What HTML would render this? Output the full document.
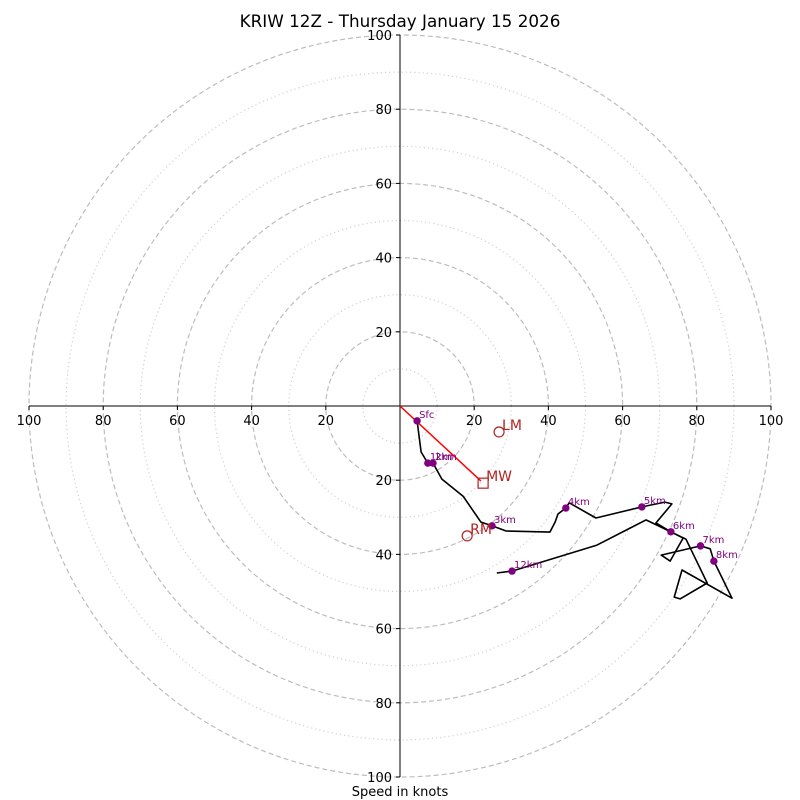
<!DOCTYPE html>
<html><head><meta charset="utf-8">
<style>
html,body{margin:0;padding:0;background:#fff;}
svg{display:block;font-family:"DejaVu Sans","Liberation Sans",sans-serif;}
</style></head>
<body>
<svg id="chart" width="800" height="800" viewBox="0 0 800 800">
<text x="400" y="27" text-anchor="middle" font-size="16.8">KRIW 12Z - Thursday January 15 2026</text>
<text x="400" y="796" text-anchor="middle" font-size="13">Speed in knots</text>
<g id="rings"></g>
<g id="axes"></g>
<g id="series"></g>
</svg>
<script>
const ringValues=[10,20,30,40,50,60,70,80,90,100];
const tickValues=[20,40,60,80,100];
const uWind=[4.6,5.7,7.5,8.9,11.3,17.0,21.8,24.8,28.6,40.4,41.8,42.6,44.7,45.6,52.8,65.2,71.4,73.3,69.0,73.0,76.3,72.8,70.4,81.0,83.6,84.6,89.5,76.0,73.9,75.5,82.8,77.1,66.3,53.1,30.2,26.1];
const vWind=[-4.0,-12.4,-15.4,-15.4,-19.7,-24.3,-31.3,-32.3,-33.7,-34.0,-31.3,-29.1,-27.5,-26.1,-30.2,-27.2,-25.9,-26.4,-31.5,-33.9,-35.6,-41.8,-40.2,-37.7,-38.5,-41.8,-51.8,-44.2,-51.5,-52.0,-47.7,-35.9,-30.7,-37.5,-44.5,-45.0];
const markerLabels=["Sfc","1km","2km","3km","4km","5km","6km","7km","8km","12km"];
const markerIndex=[0,2,3,7,12,15,19,23,25,34];
const motionLabels=["LM","MW","RM"];
const motionU=[26.7,22.4,18.1];
const motionV=[-7.0,-20.8,-35.0];

const NS="http://www.w3.org/2000/svg";
const cx=400,cy=406,R=371,maxV=100;
const sx=u=>cx+u*R/maxV, sy=v=>cy-v*R/maxV, sr=s=>s*R/maxV;
function mk(tag,attrs,parent){const e=document.createElementNS(NS,tag);for(const k in attrs)e.setAttribute(k,attrs[k]);parent.appendChild(e);return e;}
const rings=document.getElementById('rings'),axes=document.getElementById('axes'),series=document.getElementById('series');

ringValues.forEach(v=>{
  const major=v%20===0;
  const c=mk('circle',{cx:cx,cy:cy,r:sr(v),fill:'none',stroke:major?'#bdbdbd':'#d0d0d0','stroke-width':1.2,'stroke-dasharray':major?'5,3':'1.2,3'},rings);
  
  
});
const xl=mk('line',{x1:sx(-100),y1:cy,x2:sx(100),y2:cy,stroke:'#000','stroke-width':1},axes);


const yl=mk('line',{x1:cx,y1:sy(100),x2:cx,y2:sy(-100),stroke:'#000','stroke-width':1},axes);


tickValues.forEach(t=>{
  [t,-t].forEach(s=>{
    mk('line',{x1:sx(s),y1:cy,x2:sx(s),y2:cy+4,stroke:'#000'},axes);
    const tx=mk('text',{x:sx(s),y:cy+19,'text-anchor':'middle','font-size':13},axes);
    tx.textContent=t;
    
    
    mk('line',{x1:cx-4,y1:sy(s),x2:cx,y2:sy(s),stroke:'#000'},axes);
    const ty=mk('text',{x:cx-8,y:sy(s)+5,'text-anchor':'end','font-size':13},axes);
    ty.textContent=t;
    
    
  });
});

const rl=mk('line',{x1:cx,y1:cy,x2:sx(motionU[1]-0.6),y2:sy(motionV[1]+0.6),stroke:'#ff0000','stroke-width':1.5},series);



const pts=uWind.map((u,i)=>sx(u).toFixed(1)+','+sy(vWind[i]).toFixed(1)).join(' ');
const pl=mk('polyline',{points:pts,fill:'none',stroke:'#000','stroke-width':1.6,'stroke-linejoin':'round'},series);



markerIndex.forEach((idx,k)=>{
  const x=sx(uWind[idx]),y=sy(vWind[idx]);
  const c=mk('circle',{cx:x,cy:y,r:3.7,fill:'#800080'},series);
  
  
  const t=mk('text',{x:x+2,y:y-3,'font-size':10,fill:'#800080'},series);
  t.textContent=markerLabels[k];
  
  
});

motionLabels.forEach((lab,i)=>{
  const x=sx(motionU[i]),y=sy(motionV[i]);
  let m;
  if(lab==='MW') m=mk('rect',{x:x-5,y:y-5,width:10,height:10,fill:'none',stroke:'#b22222','stroke-width':1.2},series);
  else m=mk('circle',{cx:x,cy:y,r:5,fill:'none',stroke:'#b22222','stroke-width':1.2},series);
  
  
  const t=mk('text',{x:x+3,y:y-2,'font-size':14,fill:'#b22222'},series);
  t.textContent=lab;
  
  
});
</script>
</body></html>
